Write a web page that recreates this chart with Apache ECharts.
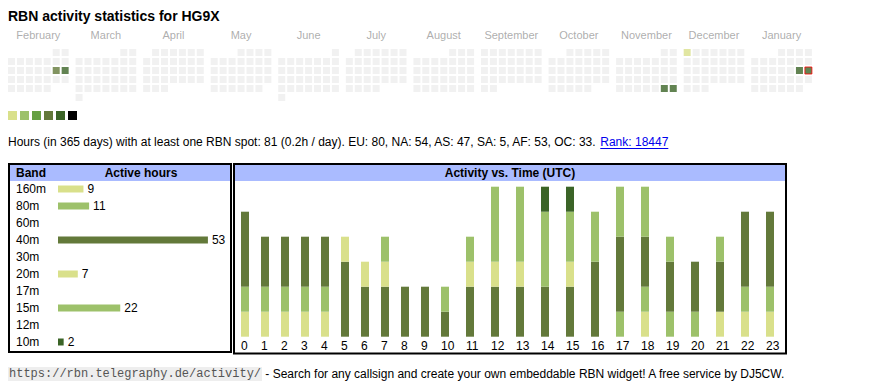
<!DOCTYPE html>
<html><head><meta charset="utf-8">
<script src="https://cdn.jsdelivr.net/npm/echarts@6/dist/echarts.min.js"></script>
<style>html,body{margin:0;padding:0;background:#fff}#c{width:870px;height:390px}</style>
</head><body><div id="c"></div>
<script>
// ---------- DATA ----------
const titleText = 'RBN activity statistics for HG9X';
const statsText = 'Hours (in 365 days) with at least one RBN spot: 81 (0.2h / day). EU: 80, NA: 54, AS: 47, SA: 5, AF: 53, OC: 33. ';
const rankText = 'Rank: 18447';
const footerUrl = 'https://rbn.telegraphy.de/activity/';
const footerText = ' - Search for any callsign and create your own embeddable RBN widget! A free service by DJ5CW.';

const monthNames = ['February','March','April','May','June','July','August','September','October','November','December','January'];
const startYear = 2025, startMonth = 1; // Feb 2025
const activeDays = [['2025-02-15',4],['2025-02-16',5],['2025-11-29',5],['2025-11-30',5],['2025-12-01',1],['2026-01-17',5],['2026-01-18',5]];
const today = '2026-01-18';
const levelColors = ['#d9e08b','#9dc16a','#66a043','#63793a','#3b6427','#000000'];

const bands = ['160m','80m','60m','40m','30m','20m','17m','15m','12m','10m'];
const bandHours = [9,11,0,53,0,7,0,22,0,2];
const bandColors = ['#d9e08b','#9dc16a','#66a043','#63793a','#3b6427','#d9e08b','#9dc16a','#9dc16a','#66a043','#3b6427'];

const hourLabels = ['0','1','2','3','4','5','6','7','8','9','10','11','12','13','14','15','16','17','18','19','20','21','22','23'];
const hourly160 = [1,1,1,1,1,0,0,0,0,0,0,0,0,0,0,0,0,0,1,0,0,1,1,1];
const hourly80  = [1,1,1,1,1,0,0,0,0,0,0,0,0,0,0,0,0,1,1,1,1,0,1,1];
const hourly40  = [3,2,2,2,2,3,2,2,2,2,1,2,2,2,2,2,3,3,2,2,2,2,3,3];
const hourly20  = [0,0,0,0,0,1,1,1,0,0,0,1,1,1,0,1,0,0,0,0,0,0,0,0];
const hourly15  = [0,0,0,0,0,0,0,1,0,0,1,1,3,3,3,2,2,2,2,1,0,1,0,0];
const hourly10  = [0,0,0,0,0,0,0,0,0,0,0,0,0,0,1,1,0,0,0,0,0,0,0,0];
const hourlySeries = [['160m',hourly160,'#d9e08b'],['80m',hourly80,'#9dc16a'],['40m',hourly40,'#63793a'],['20m',hourly20,'#d9e08b'],['15m',hourly15,'#9dc16a'],['10m',hourly10,'#3b6427']];

// ---------- BUILD ----------
const FONT = '"Liberation Sans", Arial, sans-serif';
const activeMap = {}; activeDays.forEach(d => activeMap[d[0]] = d[1]);
const pad = n => (n < 10 ? '0' : '') + n;
const MONTH_UNITS = 68 / 9;
const calData = [], monthLabelData = [];
for (let m = 0; m < 12; m++) {
  const y = startYear + Math.floor((startMonth + m) / 12), mo = (startMonth + m) % 12;
  const dow = (new Date(Date.UTC(y, mo, 1)).getUTCDay() + 6) % 7;
  const nd = new Date(Date.UTC(y, mo + 1, 0)).getUTCDate();
  for (let d = 1; d <= nd; d++) {
    const idx = dow + d - 1, col = idx % 7, row = Math.floor(idx / 7);
    const key = y + '-' + pad(mo + 1) + '-' + pad(d);
    const lvl = activeMap[key] || 0;
    const it = { value: [m * MONTH_UNITS + col, row], itemStyle: { color: lvl ? levelColors[lvl - 1] : '#eeeeee' } };
    if (key === today) { it.itemStyle.borderColor = '#ff0000'; it.itemStyle.borderWidth = 1; }
    calData.push(it);
  }
  monthLabelData.push({ value: [m * MONTH_UNITS + 3, -1.95], name: monthNames[m] });
}

// hour columns: one-digit labels take 20px, two-digit 25px (1 category = 1px)
const hourStart = [], hourCat = []; let acc = 0;
hourLabels.forEach(h => { hourStart.push(acc); hourCat.push(acc + 4); acc += h.length === 1 ? 20 : 25; });
const nCats = acc + 10;
const catNames = Array.from({ length: nCats }, (_, i) => String(i));

const mctx = document.createElement('canvas').getContext('2d');
function tw(t, f) { mctx.font = f; return mctx.measureText(t).width; }
const statsFont = '12px ' + FONT;
const statsW = tw(statsText, statsFont);
const rankW = tw(rankText, statsFont);
const monoFont = '12px "Liberation Mono", "Courier New", monospace';
const urlW = tw(footerUrl, monoFont);

const chart = echarts.init(document.getElementById('c'), null, { renderer: 'svg' });
const graphics = [
  { type: 'text', style: { x: 8, y: 16, text: titleText, font: 'bold 14px ' + FONT, fill: '#000', verticalAlign: 'middle' } },
  { type: 'text', style: { x: 8, y: 142, text: statsText, font: statsFont, fill: '#000', verticalAlign: 'middle' } },
  { type: 'text', style: { x: 8 + statsW, y: 142, text: rankText, font: statsFont, fill: '#0000ee', verticalAlign: 'middle' } },
  { type: 'line', shape: { x1: 8 + statsW, y1: 148.5, x2: 8 + statsW + rankW, y2: 148.5 }, style: { stroke: '#0000ee', lineWidth: 1 } },
  // band box
  { type: 'rect', shape: { x: 10, y: 165, width: 221, height: 16 }, style: { fill: '#aabbff' } },
  { type: 'rect', shape: { x: 9, y: 164, width: 222, height: 188 }, style: { fill: 'none', stroke: '#000', lineWidth: 2 } },
  { type: 'text', style: { x: 16, y: 173, text: 'Band', font: 'bold 12px ' + FONT, fill: '#000', verticalAlign: 'middle' } },
  { type: 'text', style: { x: 141, y: 173, text: 'Active hours', font: 'bold 12px ' + FONT, fill: '#000', verticalAlign: 'middle', align: 'center' } },
  // hours box
  { type: 'rect', shape: { x: 235, y: 165, width: 551, height: 16 }, style: { fill: '#aabbff' } },
  { type: 'rect', shape: { x: 234, y: 164, width: 552, height: 189.5 }, style: { fill: 'none', stroke: '#000', lineWidth: 2 } },
  { type: 'text', style: { x: 510, y: 173, text: 'Activity vs. Time (UTC)', font: 'bold 12px ' + FONT, fill: '#000', verticalAlign: 'middle', align: 'center' } },
  // footer
  { type: 'rect', shape: { x: 8, y: 367, width: urlW + 2, height: 14 }, style: { fill: '#eeeeee' } },
  { type: 'text', style: { x: 9, y: 374, text: footerUrl, font: monoFont, fill: '#555', verticalAlign: 'middle' } },
  { type: 'text', style: { x: 10 + urlW, y: 374, text: footerText, font: statsFont, fill: '#000', verticalAlign: 'middle' } }
];
levelColors.forEach((c, i) => graphics.push({ type: 'rect', shape: { x: 8 + 12 * i, y: 111, width: 9, height: 9 }, style: { fill: c } }));

const series = [
  { type: 'scatter', xAxisIndex: 0, yAxisIndex: 0, symbol: 'rect', symbolSize: 7, data: calData, silent: true },
  { type: 'scatter', xAxisIndex: 0, yAxisIndex: 0, symbol: 'rect', symbolSize: 1, clip: false, itemStyle: { color: 'transparent' }, data: monthLabelData, silent: true,
    label: { show: true, position: 'inside', formatter: p => p.name, color: '#999', fontSize: 11, fontFamily: FONT } },
  { type: 'bar', xAxisIndex: 1, yAxisIndex: 1, barWidth: 7, silent: true,
    data: bandHours.map((v, i) => ({ value: v, itemStyle: { color: bandColors[i] } })),
    label: { show: true, position: 'right', distance: 4, color: '#000', fontSize: 12, fontFamily: FONT, formatter: p => p.value ? String(p.value) : '' } }
];
hourlySeries.forEach(s => series.push({
  type: 'bar', name: s[0], xAxisIndex: 2, yAxisIndex: 2, stack: 'hours', barWidth: 8, silent: true,
  itemStyle: { color: s[2] }, data: s[1].map((v, h) => [hourCat[h], v])
}));

chart.setOption({
  animation: false,
  grid: [
    { left: 11.5, top: 52.5, width: 864, height: 90 },
    { left: 58, top: 180.5, width: 198, height: 170 },
    { left: 240.5, top: 186.7, width: nCats, height: 150 }
  ],
  xAxis: [
    { type: 'value', gridIndex: 0, min: 0, max: 96, show: false },
    { type: 'value', gridIndex: 1, min: 0, max: 70, show: false },
    { type: 'category', gridIndex: 2, data: catNames, axisLine: { show: false }, axisTick: { show: false }, splitLine: { show: false },
      axisLabel: { interval: i => hourStart.indexOf(i) >= 0, margin: 3, align: 'left', color: '#000', fontSize: 12, fontFamily: FONT, hideOverlap: false,
        formatter: (v, i) => { const h = hourStart.indexOf(Number(v)); return h >= 0 ? hourLabels[h] : ''; } } }
  ],
  yAxis: [
    { type: 'value', gridIndex: 0, min: 0, max: 10, inverse: true, show: false },
    { type: 'category', gridIndex: 1, data: bands, inverse: true, axisLine: { show: false }, axisTick: { show: false },
      axisLabel: { align: 'left', margin: 42, color: '#000', fontSize: 12, fontFamily: FONT } },
    { type: 'value', gridIndex: 2, min: 0, max: 6, show: false }
  ],
  graphic: graphics,
  series: series
});
</script></body></html>
